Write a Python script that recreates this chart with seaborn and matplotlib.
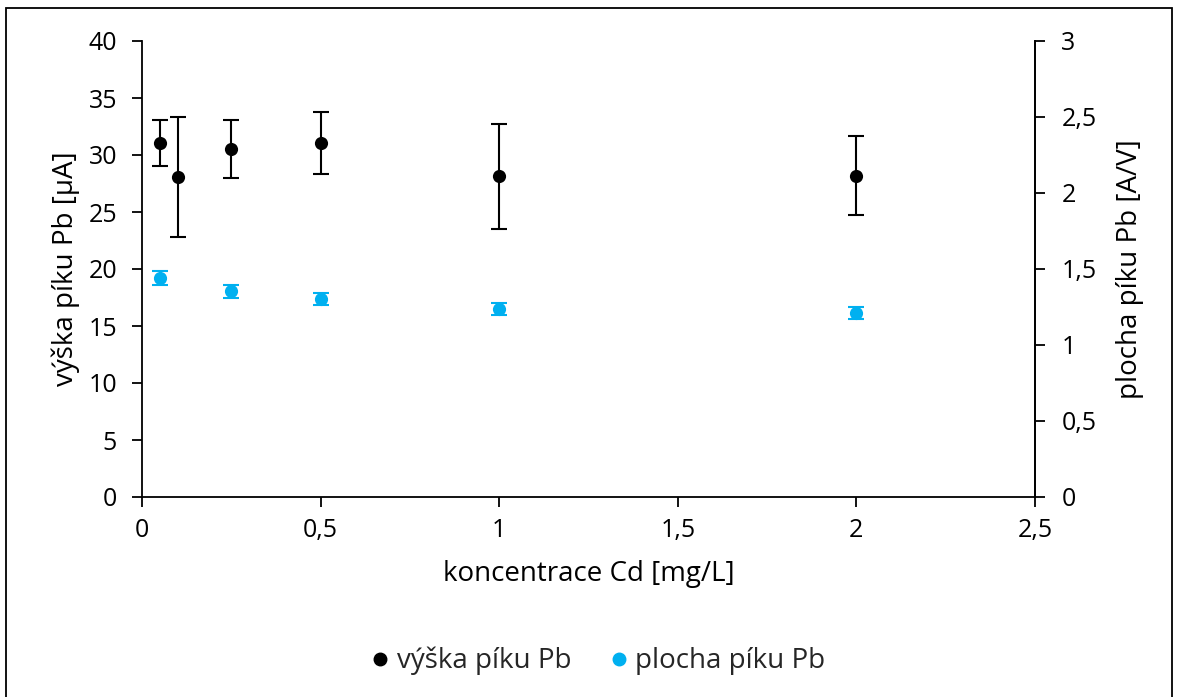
import matplotlib
matplotlib.use("Agg")
import matplotlib.pyplot as plt
import matplotlib.ticker as mticker
from matplotlib.lines import Line2D
from matplotlib.patches import Rectangle
import seaborn as sns
import pandas as pd

# data
conc_height = [0.05, 0.1, 0.25, 0.5, 1.0, 2.0]
height_uA = [31.05, 28.07, 30.5, 31.05, 28.15, 28.2]
height_err = [2.0, 5.3, 2.55, 2.75, 4.6, 3.5]

conc_area = [0.05, 0.25, 0.5, 1.0, 2.0]
area_AV = [1.44, 1.353, 1.30, 1.237, 1.208]
area_err = [0.045, 0.045, 0.04, 0.04, 0.04]

x_ticks = [0, 0.5, 1, 1.5, 2, 2.5]
y1_ticks = [0, 5, 10, 15, 20, 25, 30, 35, 40]
y2_ticks = [0, 0.5, 1, 1.5, 2, 2.5, 3]

label_h = "výška píku Pb"
label_a = "plocha píku Pb"
xlabel = "koncentrace Cd [mg/L]"
y1label = "výška píku Pb [µA]"
y2label = "plocha píku Pb [A/V]"

BLACK = "#000000"
BLUE = "#00B0F0"

sns.set_theme(style="white")
plt.rcParams["font.family"] = ["Open Sans", "DejaVu Sans"]
FS_TICK = 18
FS_LAB = 20

df_h = pd.DataFrame({"x": conc_height, "y": height_uA})
df_a = pd.DataFrame({"x": conc_area, "y": area_AV})

fig = plt.figure(figsize=(11.79, 6.97), dpi=100)
ax = fig.add_axes([142 / 1179, 1 - 497 / 697, (1035 - 142) / 1179, (497 - 41) / 697])
ax2 = ax.twinx()

ax.errorbar(conc_height, height_uA, yerr=height_err, fmt="none", ecolor=BLACK,
            elinewidth=1.5, capsize=6, capthick=1.5, zorder=2)
sns.scatterplot(data=df_h, x="x", y="y", ax=ax, color=BLACK, s=90,
                edgecolor=BLACK, linewidth=0, zorder=3, legend=False)

ax2.errorbar(conc_area, area_AV, yerr=area_err, fmt="none", ecolor=BLUE,
             elinewidth=1.5, capsize=6, capthick=1.5, zorder=2)
sns.scatterplot(data=df_a, x="x", y="y", ax=ax2, color=BLUE, s=90,
                edgecolor=BLUE, linewidth=0, zorder=3, legend=False)

def comma(v, pos):
    s = f"{v:g}"
    return s.replace(".", ",")

ax.set_xlim(0, 2.5)
ax.set_ylim(0, 40)
ax2.set_ylim(0, 3)
ax.set_xticks(x_ticks)
ax.set_yticks(y1_ticks)
ax2.set_yticks(y2_ticks)
for a in (ax, ax2):
    a.xaxis.set_major_formatter(mticker.FuncFormatter(comma))
    a.yaxis.set_major_formatter(mticker.FuncFormatter(comma))
    a.grid(False)
    a.spines["top"].set_visible(False)
    for s in ("left", "right", "bottom"):
        a.spines[s].set_color("black")
        a.spines[s].set_linewidth(1.3)

ax.tick_params(axis="both", which="major", direction="out", length=7, width=1.3,
               color="black", labelsize=FS_TICK, labelcolor="black")
ax.tick_params(axis="y", left=True, pad=11)
ax.tick_params(axis="x", bottom=True, pad=8)
ax2.tick_params(axis="y", right=True, direction="out", length=7, width=1.3,
                color="black", labelsize=FS_TICK, labelcolor="black", pad=12)
ax2.spines["left"].set_visible(False)
ax2.spines["bottom"].set_visible(False)

ax.set_xlabel(xlabel, fontsize=FS_LAB, color="black", labelpad=12)
ax.set_ylabel(y1label, fontsize=FS_LAB, color="black", labelpad=6)
ax2.set_ylabel(y2label, fontsize=FS_LAB, color="black", labelpad=14)
ax.set_zorder(ax2.get_zorder() + 1)
ax.patch.set_visible(False)

handles = [
    Line2D([], [], marker="o", linestyle="none", color=BLACK, markersize=9),
    Line2D([], [], marker="o", linestyle="none", color=BLUE, markersize=9),
]
fig.legend(handles, [label_h, label_a], loc="center", bbox_to_anchor=(596 / 1179, 1 - 661 / 697),
           ncol=2, frameon=False, fontsize=FS_LAB, handletextpad=0.1, columnspacing=1.2,
           handlelength=1.0)

fig.patches.append(Rectangle((6 / 1179, -0.05), (1172 - 6) / 1179, 1.05 - 8 / 697,
                             transform=fig.transFigure, fill=False, edgecolor="black",
                             linewidth=1.3, zorder=10))

fig.savefig("out.png", dpi=100, facecolor="white")
